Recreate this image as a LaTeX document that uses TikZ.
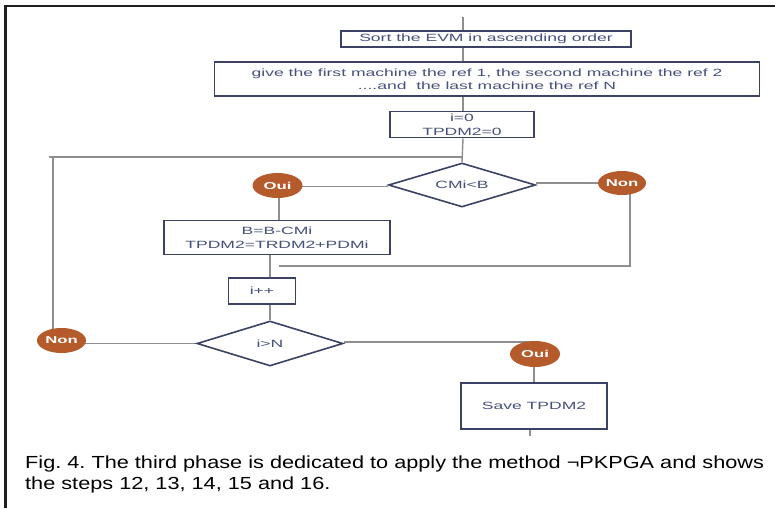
\documentclass[tikz,border=0pt]{standalone}
\usepackage{fontspec}
\setmainfont{Liberation Sans}
\newfontfamily\diagfont[FakeStretch=1.67]{Liberation Sans}
\newfontfamily\capfont[FakeStretch=1.24]{Liberation Sans}
\usetikzlibrary{shapes.geometric,backgrounds}
\definecolor{boxc}{HTML}{3C4263}
\definecolor{linec}{HTML}{8E8E8E}
\definecolor{txtc}{HTML}{46507A}
\definecolor{ovalc}{HTML}{B55A2B}
\tikzset{
  stepbox/.style={draw=boxc, line width=1.8pt, fill=white, inner sep=0pt, align=center,
    text=txtc, font=\diagfont\fontsize{10.5}{13.5}\selectfont},
  decision/.style={diamond, aspect=3.3, draw=boxc, line width=1.6pt, fill=white, inner sep=0pt,
    text=txtc, font=\diagfont\fontsize{10.5}{13.5}\selectfont},
  answer/.style={ellipse, fill=ovalc, inner sep=0pt, text=white,
    font=\diagfont\fontsize{10}{12}\selectfont\bfseries},
  conn/.style={draw=linec, line width=1.4pt},
}
\begin{document}
\begin{tikzpicture}[x=1pt,y=-1pt]
\useasboundingbox (0,0) rectangle (775,508);
% frame
\draw[line width=2.2pt, black!88] (5.5,508) -- (5.5,6) -- (775,6);
% nodes
\node[stepbox, minimum width=290pt, minimum height=16pt] (sort) at (486,39) {Sort the EVM in ascending order};
\node[stepbox, minimum width=545pt, minimum height=34pt] (give) at (487,79)
  {give the first machine the ref 1, the second machine the ref 2\\....and\ \ the last machine the ref N};
\node[stepbox, minimum width=144pt, minimum height=26pt] (init) at (462,124.5) {i=0\\TPDM2=0};
\node[decision, minimum width=147pt, minimum height=44pt] (cmp) at (462,185) {CMi<B};
\node[answer, minimum width=50pt, minimum height=25pt] (oui1) at (277.5,185.5) {Oui};
\node[answer, minimum width=48pt, minimum height=24pt] (non1) at (622,183) {Non};
\node[stepbox, minimum width=226pt, minimum height=34pt] (upd) at (277,237.5) {B=B-CMi\\TPDM2=TRDM2+PDMi};
\node[stepbox, minimum width=67pt, minimum height=26pt] (inc) at (262,291) {i++};
\node[decision, minimum width=146pt, minimum height=45pt] (test) at (270,343.5) {i>N};
\node[answer, minimum width=49pt, minimum height=25pt] (non2) at (61.5,340.5) {Non};
\node[answer, minimum width=50pt, minimum height=26pt] (oui2) at (535,354) {Oui};
\node[stepbox, minimum width=146pt, minimum height=46pt] (save) at (534,406) {Save TPDM2};
% free ends
\coordinate (top) at (463,17);
\coordinate (j1) at (463,157);
\coordinate (lx) at (53,157);
\coordinate (m1) at (279,266);
\coordinate (bot) at (530,436);
\begin{scope}[on background layer]
\draw[conn] (top) -- (top |- sort.north);
\draw[conn] (sort.south -| top) -- (give.north -| top);
\draw[conn] (give.south -| top) -- (init.south -| top);
\draw[conn] (init.south -| top) -- (cmp.north);
\draw[conn] ([xshift=-4pt]lx) -- (j1);
\draw[conn] (lx) -- (lx |- non2.center);
\draw[conn] ([yshift=-1.5pt]cmp.west) -- ([yshift=-1.5pt]cmp.west -| oui1.center);
\draw[conn] ([yshift=2pt]cmp.east) -- ([yshift=2pt]cmp.east -| non1.center);
\draw[conn] (oui1.center -| m1) -- (upd.north -| m1);
\draw[conn] ([xshift=8pt]non1.center) |- (m1);
\draw[conn] (upd.south -| test.north) -- (inc.north -| test.north);
\draw[conn] (inc.south -| test.north) -- (test.north);
\draw[conn] (test.west) -- (test.west -| non2.center);
\draw[conn] ([yshift=1.5pt]test.east) -- ([yshift=1.5pt]test.east -| oui2.center);
\draw[conn] (oui2.center -| save.north) -- (save.north);
\draw[conn] (save.south -| bot) -- (bot);
\end{scope}
% caption
\node[anchor=base west, align=left, font=\capfont\fontsize{17.5}{20.5}\selectfont\frenchspacing, inner sep=0pt] (cap) at (25,489)
  {Fig. 4. The third phase is dedicated to apply the method ¬PKPGA and shows\\the steps 12, 13, 14, 15 and 16.};
\end{tikzpicture}
\end{document}
